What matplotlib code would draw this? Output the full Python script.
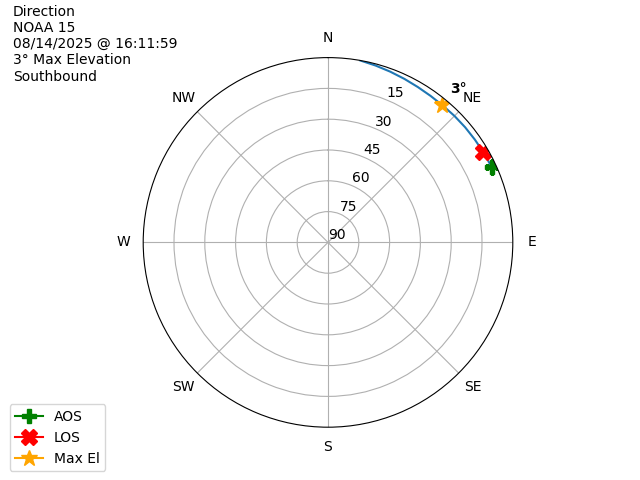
import numpy as np
import matplotlib.pyplot as plt

# pass track (azimuth in degrees, elevation in degrees)
track_az = [10, 15, 20, 25, 30, 35, 40, 45, 50, 55, 60, 65]
track_el = [0.0, 0.8, 1.5, 2.1, 2.6, 2.9, 3.0, 2.9, 2.8, 2.7, 2.5, 2.3]

aos_az, aos_el = 65.4, 2.3
los_az, los_el = 59.6, 2.6
max_az, max_el = 39.5, 3.0

compass = ['N', 'NE', 'E', 'SE', 'S', 'SW', 'W', 'NW']
elev_ticks = [0, 15, 30, 45, 60, 75]
elev_labels = ['90', '75', '60', '45', '30', '15']

title_lines = ['Direction', 'NOAA 15', '08/14/2025 @ 16:11:59',
               '3\u00b0 Max Elevation', 'Southbound']

fig = plt.figure(figsize=(6.4, 4.8), dpi=100)
ax = fig.add_subplot(111, projection='polar')
ax.set_theta_zero_location('N')
ax.set_theta_direction(-1)

# radius = 90 - elevation
ax.plot(np.radians(track_az), 90 - np.array(track_el))
ax.plot(np.radians(aos_az), 90 - aos_el, marker='P', color='green',
        markersize=10, label='AOS')
ax.plot(np.radians(los_az), 90 - los_el, marker='X', color='red',
        markersize=12, label='LOS')
ax.plot(np.radians(max_az), 90 - max_el, marker='*', color='orange',
        markersize=12, label='Max El')
ax.annotate(f'{max_el:.0f}\u00b0', (np.radians(max_az), 90 - max_el),
            xytext=(6, 8), textcoords='offset points', fontweight='bold')

ax.set_ylim(0, 90)
ax.set_yticks(elev_ticks)
ax.set_yticklabels(elev_labels)
ax.set_xticks(np.radians(np.arange(0, 360, 45)))
ax.set_xticklabels(compass)
ax.grid(True, color='#b0b0b0')

fig.text(0.02, 0.99, '\n'.join(title_lines), ha='left', va='top')
fig.legend(loc='lower left', bbox_to_anchor=(0.004, 0.004))

fig.savefig('out.png')
